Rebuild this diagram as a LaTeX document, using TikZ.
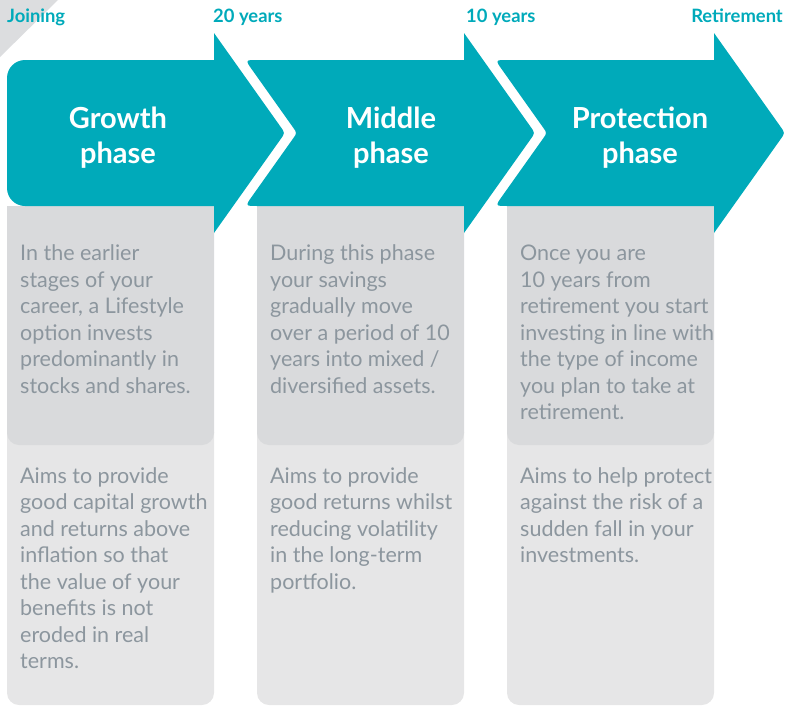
\documentclass[tikz,border=0pt]{standalone}
\usepackage{fontspec}
\setmainfont{Lato}
\definecolor{tealc}{RGB}{0,170,186}
\definecolor{darkg}{RGB}{217,218,220}
\definecolor{lightg}{RGB}{230,230,231}
\definecolor{cornerg}{RGB}{220,221,223}
\definecolor{textg}{RGB}{140,150,158}
\tikzset{
  bodytext/.style={anchor=base west, inner sep=0pt, align=left, text=textg, font=\fontsize{21.5}{26.5}\selectfont},
  phasetitle/.style={anchor=base, inner sep=0pt, align=center, text=white, font=\bfseries\fontsize{29}{35}\selectfont},
  milestone/.style={inner sep=0pt, text=tealc, font=\bfseries\fontsize{18.4}{20}\selectfont},
  arrowfill/.style={fill=tealc},
  lowbox/.style={fill=lightg, rounded corners=12pt},
  upbox/.style={fill=darkg, rounded corners=12pt},
}
\begin{document}
\begin{tikzpicture}[x=1pt,y=-1pt]
\useasboundingbox (0,0) rectangle (790,712);
% corner triangle
\fill[cornerg] (0,0) -- (58,0) -- (0,57) -- cycle;
% grey columns
\foreach \lx/\rx in {7/214, 257/464, 507/714}{
  \fill[lowbox] (\lx,420) rectangle (\rx,705);
  \fill[upbox] (\lx,206) rectangle (\rx,445);
  \fill[darkg] (\lx,206) rectangle (\rx,240);
}
% arrow 1
\fill[arrowfill] (7,78) -- (7,188) .. controls (7,197.94) and (15.06,206) .. (25,206)
  -- (214,206) -- (214,233) -- (280.37,139.52) .. controls (285,133) .. (280.37,126.48)
  -- (214,33) -- (214,60) -- (25,60) .. controls (15.06,60) and (7,68.06) .. (7,78) -- cycle;
% arrow 2
\fill[arrowfill] (257.17,60) -- (464,60) -- (464,33) -- (530.37,126.48) .. controls (535,133) .. (530.37,139.52)
  -- (464,233) -- (464,206) -- (257.17,206) .. controls (245.17,206) .. (252.12,196.22)
  -- (292.95,138.71) .. controls (297,133) .. (292.95,127.29)
  -- (252.12,69.78) .. controls (245.17,60) .. (257.17,60) -- cycle;
% arrow 3
\fill[arrowfill] (507.17,60) -- (714,60) -- (714,33) -- (780.37,126.48) .. controls (785,133) .. (780.37,139.52)
  -- (714,233) -- (714,206) -- (507.17,206) .. controls (495.17,206) .. (502.12,196.22)
  -- (542.95,138.71) .. controls (547,133) .. (542.95,127.29)
  -- (502.12,69.78) .. controls (495.17,60) .. (507.17,60) -- cycle;
% milestones
\node[milestone, anchor=base west] (m0) at (7,23) {Joining};
\node[milestone, anchor=base west] (m1) at (213,23) {20 years};
\node[milestone, anchor=base west] (m2) at (466,23) {10 years};
\node[milestone, anchor=base east] (m3) at (783,23) {Retirement};
% titles (base = last line)
\node[phasetitle] (p1) at (118,163) {Growth\\phase};
\node[phasetitle] (p2) at (391,163) {Middle\\phase};
\node[phasetitle] (p3) at (640,163) {Protection\\phase};
% upper texts (base = last line)
\node[bodytext] (u1) at (20,393.2) {In the earlier\\stages of your\\career, a Lifestyle\\option invests\\predominantly in\\stocks and shares.};
\node[bodytext] (u2) at (270,393.2) {During this phase\\your savings\\gradually move\\over a period of 10\\years into mixed /\\diversified assets.};
\node[bodytext] (u3) at (520,419.7) {Once you are\\10 years from\\retirement you start\\investing in line with\\the type of income\\you plan to take at\\retirement.};
% lower texts
\node[bodytext] (l1) at (20,668.5) {Aims to provide\\good capital growth\\and returns above\\inflation so that\\the value of your\\benefits is not\\eroded in real\\terms.};
\node[bodytext] (l2) at (270,589) {Aims to provide\\good returns whilst\\reducing volatility\\in the long-term\\portfolio.};
\node[bodytext] (l3) at (520,562.5) {Aims to help protect\\against the risk of a\\sudden fall in your\\investments.};
\end{tikzpicture}
\end{document}
